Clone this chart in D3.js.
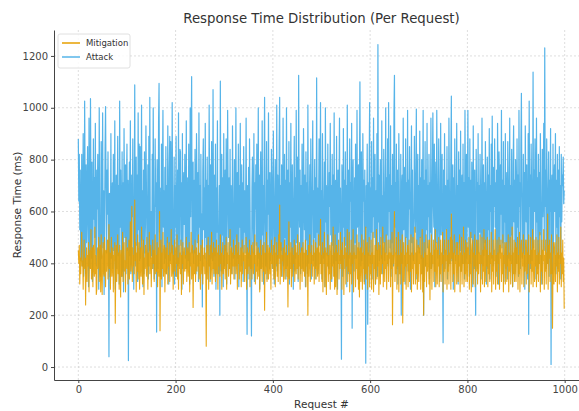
<!DOCTYPE html>
<html>
<head>
<meta charset="utf-8">
<script src="https://cdn.jsdelivr.net/npm/d3@7"></script>
<style>
  body { margin: 0; background: #fff; }
  text { font-family: "DejaVu Sans", sans-serif; }
</style>
</head>
<body>
<div id="chart"></div>
<script>
/* --------------------------------------------------------- */
/* DATA                                                      */
/* --------------------------------------------------------- */
const seriesNames = ["Mitigation", "Attack"];
const seriesColors = ["#E69F00", "#56B4E9"];
const xTicks = [0, 200, 400, 600, 800, 1000];
const yTicks = [0, 200, 400, 600, 800, 1000, 1200];

// response time per request (ms), request # = index
const attackMs = [
880,640,820,530,760,410,470,820,390,580,900,350,420,1026,700,360,780,480,620,850,
540,310,960,450,380,1035,680,420,790,330,410,880,570,730,500,940,460,390,760,610,
820,480,300,1000,560,380,350,870,420,590,980,460,680,280,530,840,1005,700,440,760,
590,830,510,40,670,350,480,900,420,560,710,380,820,450,530,950,300,470,740,380,
560,890,430,700,320,1026,540,760,480,350,830,370,710,290,920,640,500,780,360,690,
860,450,720,25,610,790,430,950,360,420,740,580,880,500,300,620,1088,460,390,810,
470,740,330,980,530,860,410,850,420,570,1010,490,680,310,760,360,830,440,550,930,
700,480,390,780,340,890,450,1040,500,420,600,430,820,380,1000,560,340,470,880,620,
710,135,800,580,380,940,1094,520,690,350,450,860,310,730,990,540,680,400,770,420,
850,360,700,480,930,430,320,760,890,410,870,600,440,1020,550,360,480,810,320,700,
540,890,350,430,760,390,980,400,520,840,830,470,710,300,900,380,680,750,550,820,
420,470,950,380,540,730,410,860,500,320,1000,580,860,1120,440,510,790,400,720,440,
840,620,360,900,690,480,750,330,980,540,700,410,820,460,590,232,760,880,530,690,
420,940,500,720,340,810,460,700,390,1010,660,330,780,420,870,490,410,1070,560,350,
740,430,860,300,690,520,950,440,360,480,700,200,1103,580,370,820,510,730,310,900,
540,390,760,450,880,320,570,990,680,500,730,380,840,470,700,450,360,930,620,420,
480,800,340,570,1000,530,390,750,420,860,310,700,540,940,460,390,780,460,710,330,
850,520,680,440,600,960,490,126,700,420,770,340,880,650,380,430,120,690,810,560,
440,900,330,710,610,780,470,860,390,550,1000,420,740,300,680,830,380,440,950,510,
700,320,760,1040,560,390,430,870,340,720,590,980,520,380,750,410,460,840,700,380,
660,910,540,320,630,800,490,390,1010,370,740,420,530,880,1040,400,700,450,780,350,
560,960,390,410,820,500,720,340,1000,580,390,760,470,870,320,710,540,940,460,380,
780,510,300,650,890,370,730,420,990,480,690,810,330,1125,660,540,760,360,700,450,
860,440,380,920,690,530,740,310,830,490,710,360,1010,570,400,620,780,440,880,340,
560,720,950,410,680,500,800,340,730,390,1115,520,690,360,620,880,470,710,1020,400,
680,340,900,650,420,480,790,310,1000,560,700,440,430,860,390,380,750,620,940,510,
700,330,820,470,740,400,980,350,680,720,410,890,440,300,760,520,700,960,410,690,
500,30,780,650,350,920,540,720,380,830,470,700,310,1010,580,360,760,420,880,640,
710,390,940,150,690,800,460,370,730,480,860,420,420,990,540,650,780,320,720,1100,
560,390,830,410,470,900,640,720,330,760,480,15,700,540,860,165,710,430,780,1020,
400,690,520,870,340,730,580,960,500,700,820,320,680,450,900,350,1244,560,740,410,
690,800,530,420,950,360,660,480,840,620,410,570,1000,440,730,510,880,390,1020,600,
740,460,930,350,700,480,820,420,390,980,1125,540,710,440,860,380,760,320,430,900,
650,400,360,820,200,680,740,400,960,530,690,770,320,880,500,710,440,990,370,720,
610,850,540,300,660,930,480,760,440,410,580,890,620,520,740,995,340,690,820,460,
700,440,910,500,730,420,800,360,680,990,200,720,440,870,390,760,530,940,460,700,
580,820,340,710,520,960,380,400,750,980,630,540,860,310,620,790,480,990,660,420,
600,880,550,330,650,940,510,700,820,420,94,760,440,900,380,700,680,530,850,340,
720,390,960,660,400,540,820,1045,410,690,780,300,730,440,880,600,410,560,940,460,
700,320,830,480,760,450,910,370,690,740,400,860,530,710,340,990,580,400,820,420,
680,990,540,730,350,880,400,720,500,790,640,310,930,560,380,760,420,200,840,660,
710,380,900,440,700,520,820,670,340,600,960,550,390,780,430,710,480,870,650,320,
590,810,380,740,530,920,340,700,600,860,420,968,560,390,770,620,880,540,710,350,
760,400,940,680,320,830,700,440,780,590,990,460,720,480,870,330,700,560,900,380,
620,750,340,870,690,420,600,960,410,700,510,840,380,310,780,930,560,720,360,800,
600,400,880,540,740,350,990,620,710,380,860,1056,680,420,500,820,440,750,300,930,
680,560,780,400,340,900,126,1026,620,740,380,860,690,410,520,1138,460,760,600,880,
700,340,960,560,730,380,820,400,750,510,900,660,420,320,840,580,700,940,450,1231,
620,760,380,880,690,400,540,830,350,720,600,920,10,680,740,360,860,440,710,780,
600,900,360,720,540,820,380,760,420,850,580,700,340,820,560,740,700,810,630,680
];

const mitigationMs = [
450,400,470,320,420,360,440,520,390,410,300,430,490,380,420,239,400,460,330,430,
390,480,290,420,450,380,530,340,410,460,310,470,400,350,540,360,430,280,300,460,
380,420,500,330,410,470,290,510,390,280,430,480,360,350,500,420,310,450,370,430,
490,340,410,550,380,440,300,420,500,350,400,460,290,430,410,480,169,390,470,330,
420,510,360,440,300,470,410,270,450,390,350,520,330,430,480,370,410,290,500,420,
380,460,320,410,490,340,440,560,370,420,620,330,460,390,430,360,644,410,480,290,
440,370,510,340,420,480,300,410,460,350,540,400,320,440,490,280,420,380,470,410,
350,500,420,300,440,390,520,360,430,470,310,420,380,490,400,450,330,420,510,360,
430,370,480,310,410,460,350,600,140,420,490,340,440,380,520,350,420,470,290,410,
460,360,420,500,320,430,390,480,330,440,400,530,350,400,470,300,430,370,490,420,
350,460,400,510,340,420,300,470,380,440,360,490,280,430,400,480,320,420,460,370,
430,380,500,330,420,460,350,410,480,290,440,390,520,340,420,470,230,410,450,360,
490,330,420,460,370,430,390,510,340,440,400,300,470,420,360,490,320,430,390,460,
360,440,380,80,470,340,420,500,300,430,390,470,340,420,520,320,440,380,480,360,
420,460,330,410,490,360,440,300,470,390,430,350,510,400,440,300,420,480,360,430,
380,470,340,420,500,300,440,400,480,350,430,380,530,320,420,460,360,440,390,490,
340,430,390,470,360,420,510,300,440,400,480,340,430,370,460,310,420,490,360,440,
410,470,330,430,380,500,300,420,460,360,440,390,490,310,430,380,470,340,420,480,
360,440,400,510,320,430,370,480,340,420,460,350,440,290,410,490,380,430,330,470,
420,370,480,219,440,360,430,520,330,420,470,340,410,460,360,440,300,490,400,430,
380,470,340,420,500,310,440,400,480,350,430,330,510,420,625,320,440,480,350,430,
410,460,330,420,490,340,440,380,470,350,430,232,410,560,340,440,380,480,310,420,
460,350,430,400,490,330,420,470,360,440,380,510,340,430,390,480,300,440,380,460,
330,430,480,370,440,350,420,490,310,450,390,430,200,470,350,420,510,330,440,400,
470,350,430,390,490,320,440,380,480,340,430,460,350,420,510,330,440,400,570,360,
430,330,480,290,440,400,520,310,420,460,280,440,390,510,330,430,360,470,300,420,
480,340,430,390,540,350,440,300,510,310,420,470,280,440,400,490,340,430,380,520,
400,450,300,480,380,430,280,500,420,460,320,440,390,530,330,430,370,520,290,440,
360,490,320,430,400,530,290,440,420,470,310,430,380,510,340,460,300,480,270,430,
460,330,420,510,300,440,380,490,320,430,360,540,340,420,480,300,440,390,500,310,
430,360,490,300,440,400,520,290,430,380,470,320,420,530,340,450,390,480,280,430,
470,320,500,360,430,400,540,310,420,480,330,440,380,510,300,430,400,490,330,440,
420,490,310,440,380,520,163,430,400,480,600,330,440,360,500,300,430,390,520,290,
430,360,490,320,440,400,510,170,420,480,330,430,390,500,300,440,400,470,310,430,
490,330,430,370,510,290,440,380,500,320,430,400,540,320,440,360,490,300,420,470,
330,460,400,500,300,430,360,530,290,420,200,480,330,440,390,510,310,430,370,490,
440,320,490,260,440,380,510,300,430,400,490,330,450,370,530,310,420,480,320,450,
390,500,310,430,360,490,330,440,400,520,290,430,370,490,320,450,410,530,300,430,
370,490,320,440,400,500,300,590,420,490,330,440,360,510,290,430,400,480,320,450,
480,330,430,390,510,290,440,370,500,320,430,400,540,310,440,360,490,330,420,480,
330,460,400,500,300,430,360,520,290,420,470,490,320,440,390,510,310,430,370,490,
440,320,490,360,440,400,510,290,430,400,500,320,450,370,530,310,420,490,330,450,
390,500,310,430,360,490,330,440,400,520,290,430,370,490,320,450,410,530,300,430,
370,490,320,440,400,500,300,470,420,490,330,440,360,510,290,430,400,480,320,450,
480,330,430,390,510,290,440,370,500,320,430,400,540,310,440,360,490,330,420,480,
330,460,400,500,300,430,360,520,290,420,470,490,320,440,390,510,310,430,370,490,
440,320,490,360,440,400,510,290,430,400,500,320,450,370,530,310,420,490,330,450,
390,500,310,430,360,490,330,440,400,520,290,430,370,490,320,450,410,530,300,430,
370,490,320,440,400,590,300,470,420,490,330,440,360,510,290,150,400,480,320,450,
480,330,430,390,510,290,440,370,500,320,430,400,540,310,440,360,490,330,420,225
];

/* --------------------------------------------------------- */
/* DRAW CHART                                                */
/* --------------------------------------------------------- */
const width = 579, height = 411;
const plot = { left: 54, top: 30, right: 589, bottom: 380 };

const svg = d3.select("#chart")
    .append("svg")
    .attr("width", width)
    .attr("height", height);

const x = d3.scaleLinear().domain([-50, 1050]).range([plot.left, plot.right]);
const y = d3.scaleLinear().domain([-50, 1300]).range([plot.bottom, plot.top]);

// grid
const grid = svg.append("g").attr("class", "grid");
grid.selectAll(".gx").data(xTicks).enter().append("line")
    .attr("x1", d => x(d)).attr("x2", d => x(d))
    .attr("y1", plot.top).attr("y2", plot.bottom)
    .attr("stroke", "#c8c8c8").attr("stroke-width", 0.6)
    .attr("stroke-dasharray", "2,2");
grid.selectAll(".gy").data(yTicks).enter().append("line")
    .attr("x1", plot.left).attr("x2", plot.right)
    .attr("y1", d => y(d)).attr("y2", d => y(d))
    .attr("stroke", "#c8c8c8").attr("stroke-width", 0.6)
    .attr("stroke-dasharray", "2,2");

// lines - attack first, mitigation drawn over it
const line = d3.line()
    .x((d, i) => x(i))
    .y(d => y(d));

const drawOrder = [1, 0];
svg.append("g").selectAll("path")
    .data(drawOrder)
    .enter().append("path")
    .attr("fill", "none")
    .attr("stroke", k => seriesColors[k])
    .attr("stroke-width", k => k === 0 ? 1.1 : 1.2)
    .attr("stroke-opacity", k => k === 0 ? 0.9 : 1)
    .attr("stroke-linejoin", "round")
    .attr("d", k => line(k === 0 ? mitigationMs : attackMs));

// axes
const xAxis = svg.append("g")
    .attr("transform", `translate(0,${plot.bottom})`)
    .call(d3.axisBottom(x).tickValues(xTicks).tickFormat(d3.format("d"))
        .tickSizeInner(3).tickSizeOuter(0).tickPadding(3));
const yAxis = svg.append("g")
    .attr("transform", `translate(${plot.left},0)`)
    .call(d3.axisLeft(y).tickValues(yTicks).tickFormat(d3.format("d"))
        .tickSizeInner(3).tickSizeOuter(0).tickPadding(3));

[xAxis, yAxis].forEach(function (ax) {
    ax.select(".domain").attr("stroke", "#444").attr("stroke-width", 1);
    ax.selectAll(".tick line").attr("stroke", "#444");
    ax.selectAll(".tick text")
        .attr("fill", "#444")
        .style("font-size", "10px")
        .style("font-family", "DejaVu Sans, sans-serif");
});

// title and labels
svg.append("text")
    .attr("x", (plot.left + plot.right) / 2)
    .attr("y", 23)
    .attr("text-anchor", "middle")
    .attr("fill", "#333")
    .style("font-size", "13.3px")
    .text("Response Time Distribution (Per Request)");

svg.append("text")
    .attr("x", (plot.left + plot.right) / 2)
    .attr("y", 408)
    .attr("text-anchor", "middle")
    .attr("fill", "#333")
    .style("font-size", "10.5px")
    .text("Request #");

svg.append("text")
    .attr("transform", `translate(21,${(plot.top + plot.bottom) / 2}) rotate(-90)`)
    .attr("text-anchor", "middle")
    .attr("fill", "#333")
    .style("font-size", "10.5px")
    .text("Response Time (ms)");

// legend
const legend = svg.append("g").attr("transform", "translate(58,34)");
legend.append("rect")
    .attr("width", 72).attr("height", 34)
    .attr("rx", 2)
    .attr("fill", "#fff").attr("fill-opacity", 0.85)
    .attr("stroke", "#d8d8d8").attr("stroke-width", 0.8);
const entry = legend.selectAll(".entry")
    .data(seriesNames)
    .enter().append("g")
    .attr("transform", (d, i) => `translate(0,${9 + i * 14})`);
entry.append("line")
    .attr("x1", 4).attr("x2", 22)
    .attr("stroke", (d, i) => seriesColors[i])
    .attr("stroke-width", 1.5);
entry.append("text")
    .attr("x", 28).attr("y", 3)
    .attr("fill", "#333")
    .style("font-size", "8.5px")
    .text(d => d);
</script>
</body>
</html>
